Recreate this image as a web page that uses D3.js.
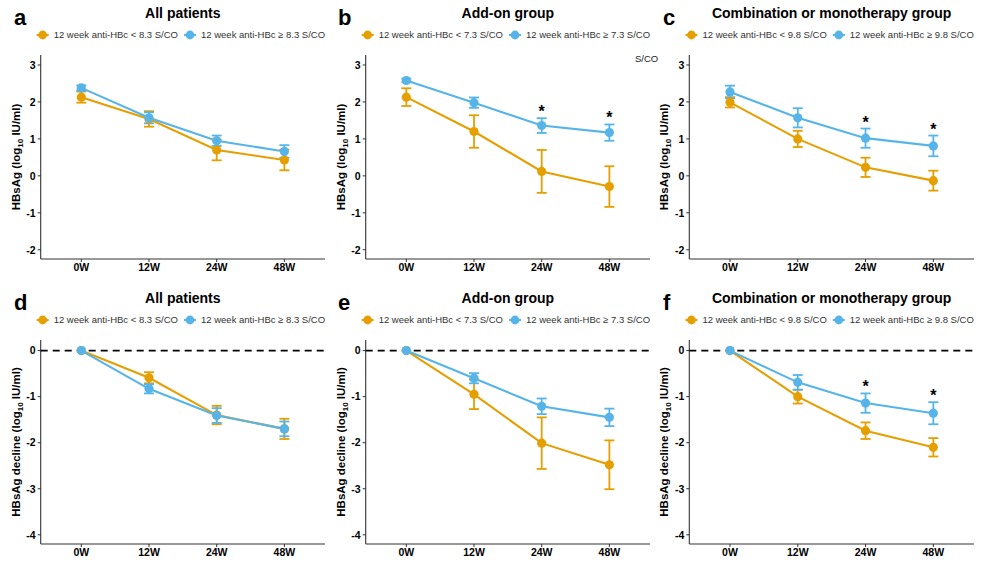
<!DOCTYPE html>
<html>
<head>
<meta charset="utf-8">
<script src="https://cdn.jsdelivr.net/npm/d3@7"></script>
<style>
  html, body { margin: 0; padding: 0; background: #ffffff; }
  svg { display: block; font-family: "Liberation Sans", Arial, sans-serif; }
</style>
</head>
<body>
<svg id="chart" width="988" height="568"></svg>
<script>
// ---------- data ----------
const timepoints = ["0W", "12W", "24W", "48W"];

// Top row: HBsAg (log10 IU/ml), mean and error half-width
const aLow = [2.13, 1.54, 0.70, 0.43];
const aLowErr = [0.15, 0.21, 0.28, 0.28];
const aHigh = [2.38, 1.57, 0.95, 0.66];
const aHighErr = [0.07, 0.15, 0.14, 0.17];

const bLow = [2.13, 1.20, 0.12, -0.29];
const bLowErr = [0.24, 0.44, 0.58, 0.55];
const bHigh = [2.58, 1.98, 1.36, 1.17];
const bHighErr = [0.05, 0.14, 0.20, 0.22];

const cLow = [1.99, 1.00, 0.23, -0.13];
const cLowErr = [0.14, 0.22, 0.26, 0.27];
const cHigh = [2.27, 1.57, 1.02, 0.81];
const cHighErr = [0.17, 0.26, 0.26, 0.28];

// Bottom row: HBsAg decline (log10 IU/ml)
const dLow = [0, -0.59, -1.40, -1.70];
const dLowErr = [0, 0.12, 0.20, 0.22];
const dHigh = [0, -0.83, -1.41, -1.70];
const dHighErr = [0, 0.10, 0.16, 0.16];

const eLow = [0, -0.95, -2.01, -2.48];
const eLowErr = [0, 0.32, 0.56, 0.53];
const eHigh = [0, -0.60, -1.21, -1.45];
const eHighErr = [0, 0.11, 0.17, 0.19];

const fLow = [0, -1.00, -1.74, -2.10];
const fLowErr = [0, 0.15, 0.18, 0.20];
const fHigh = [0, -0.69, -1.14, -1.36];
const fHighErr = [0, 0.16, 0.21, 0.24];

const thresholds = ["8.3", "7.3", "9.8"];
const titles = ["All patients", "Add-on group", "Combination or monotherapy group"];
const letters = ["a", "b", "c", "d", "e", "f"];
const sigNone = [false, false, false, false];
const sigLate = [false, false, true, true];

const topTicks = [-2, -1, 0, 1, 2, 3];
const bottomTicks = [-4, -3, -2, -1, 0];

const colLow = "#E69F00";
const colHigh = "#56B4E9";

// ---------- layout ----------
const colX = [[40.7, 325], [365.7, 650], [689.3, 974]];
const rowY = [[55, 259], [340, 544]];
const rowOff = [0, 285];
const letterX = [14, 338, 663];

const panels = [
  {row: 0, col: 0, low: aLow, lowErr: aLowErr, high: aHigh, highErr: aHighErr, sig: sigNone},
  {row: 0, col: 1, low: bLow, lowErr: bLowErr, high: bHigh, highErr: bHighErr, sig: sigLate},
  {row: 0, col: 2, low: cLow, lowErr: cLowErr, high: cHigh, highErr: cHighErr, sig: sigLate},
  {row: 1, col: 0, low: dLow, lowErr: dLowErr, high: dHigh, highErr: dHighErr, sig: sigNone},
  {row: 1, col: 1, low: eLow, lowErr: eLowErr, high: eHigh, highErr: eHighErr, sig: sigNone},
  {row: 1, col: 2, low: fLow, lowErr: fLowErr, high: fHigh, highErr: fHighErr, sig: sigLate}
];

const svg = d3.select("#chart");
svg.append("rect").attr("width", 988).attr("height", 568).attr("fill", "#ffffff");

panels.forEach((p, i) => {
  const [x0, x1] = colX[p.col];
  const [y0, y1] = rowY[p.row];
  const off = rowOff[p.row];
  const g = svg.append("g");

  const x = d3.scalePoint().domain(timepoints).range([x0, x1]).padding(0.6);
  const y = d3.scaleLinear()
    .domain(p.row === 0 ? [-2.25, 3.27] : [-4.2, 0.23])
    .range([y1, y0]);

  // panel letter
  g.append("text").attr("x", letterX[p.col]).attr("y", off + 25)
    .attr("font-size", 22).attr("font-weight", "bold").attr("fill", "#000")
    .text(letters[i]);

  // title
  const cx = (x0 + x1) / 2;
  g.append("text").attr("x", cx).attr("y", off + 17.5)
    .attr("text-anchor", "middle").attr("font-size", 14).attr("font-weight", "bold")
    .attr("fill", "#000").text(titles[p.col]);

  // legend
  const leg = g.append("g");
  const labels = [
    {t: "12 week anti-HBc < " + thresholds[p.col] + " S/CO", c: colLow},
    {t: "12 week anti-HBc \u2265 " + thresholds[p.col] + " S/CO", c: colHigh}
  ];
  let lx = 0;
  labels.forEach((L) => {
    const item = leg.append("g").attr("transform", `translate(${lx},0)`);
    item.append("line").attr("x1", -6).attr("x2", 6).attr("y1", 0).attr("y2", 0)
      .attr("stroke", L.c).attr("stroke-width", 2);
    item.append("circle").attr("r", 4.4).attr("fill", L.c);
    const t = item.append("text").attr("x", 11).attr("y", 3.4)
      .attr("font-size", 9.5).attr("fill", "#333").text(L.t);
    const w = t.node().getComputedTextLength();
    lx += 11 + w + 12;
  });
  const legW = lx - 12 + 6;
  leg.attr("transform", `translate(${cx - 2 - legW / 2 + 6},${off + 35})`);

  // axes lines
  g.append("line").attr("x1", x0).attr("x2", x0).attr("y1", y0).attr("y2", y1)
    .attr("stroke", "#333").attr("stroke-width", 1.1);
  g.append("line").attr("x1", x0).attr("x2", x1).attr("y1", y1).attr("y2", y1)
    .attr("stroke", "#333").attr("stroke-width", 1.1);

  // y ticks
  const yt = p.row === 0 ? topTicks : bottomTicks;
  yt.forEach(v => {
    g.append("line").attr("x1", x0 - 3).attr("x2", x0).attr("y1", y(v)).attr("y2", y(v))
      .attr("stroke", "#333").attr("stroke-width", 1);
    g.append("text").attr("x", x0 - 5).attr("y", y(v) + 3.8)
      .attr("text-anchor", "end").attr("font-size", 10.5).attr("font-weight", "bold")
      .attr("fill", "#000").text(v);
  });
  // x ticks
  timepoints.forEach(tp => {
    g.append("line").attr("x1", x(tp)).attr("x2", x(tp)).attr("y1", y1).attr("y2", y1 + 3)
      .attr("stroke", "#333").attr("stroke-width", 1);
    g.append("text").attr("x", x(tp)).attr("y", y1 + 12)
      .attr("text-anchor", "middle").attr("font-size", 10.5).attr("font-weight", "bold")
      .attr("fill", "#000").text(tp);
  });

  // y axis title
  const ty = (y0 + y1) / 2;
  const tx = x0 - 21;
  const title = g.append("text").attr("transform", `translate(${tx},${ty}) rotate(-90)`)
    .attr("text-anchor", "middle").attr("font-size", 11.5).attr("font-weight", "bold")
    .attr("fill", "#000");
  title.append("tspan").text(p.row === 0 ? "HBsAg (log" : "HBsAg decline (log");
  title.append("tspan").attr("font-size", 8).attr("dy", 3).text("10");
  title.append("tspan").attr("dy", -3).text(" IU/ml)");

  // dashed zero line in bottom row
  if (p.row === 1) {
    g.append("line").attr("x1", x0).attr("x2", x1).attr("y1", y(0)).attr("y2", y(0))
      .attr("stroke", "#000").attr("stroke-width", 1.8).attr("stroke-dasharray", "7,5");
  }

  const series = [
    {vals: p.low, err: p.lowErr, c: colLow},
    {vals: p.high, err: p.highErr, c: colHigh}
  ];

  const line = d3.line().x((d, k) => x(timepoints[k])).y(d => y(d));

  series.forEach(s => {
    g.append("path").attr("d", line(s.vals)).attr("fill", "none")
      .attr("stroke", s.c).attr("stroke-width", 2.1);
  });
  series.forEach(s => {
    s.vals.forEach((v, k) => {
      const e = s.err[k];
      if (e <= 0) return;
      const px = x(timepoints[k]);
      const eg = g.append("g").attr("stroke", s.c).attr("stroke-width", 1.8);
      eg.append("line").attr("x1", px).attr("x2", px).attr("y1", y(v - e)).attr("y2", y(v + e));
      eg.append("line").attr("x1", px - 5).attr("x2", px + 5).attr("y1", y(v - e)).attr("y2", y(v - e));
      eg.append("line").attr("x1", px - 5).attr("x2", px + 5).attr("y1", y(v + e)).attr("y2", y(v + e));
    });
  });
  series.forEach(s => {
    s.vals.forEach((v, k) => {
      g.append("circle").attr("cx", x(timepoints[k])).attr("cy", y(v))
        .attr("r", 4.6).attr("fill", s.c);
    });
  });

  // significance stars
  p.sig.forEach((sg, k) => {
    if (!sg) return;
    const top = Math.max(p.low[k] + p.lowErr[k], p.high[k] + p.highErr[k]);
    g.append("text").attr("x", x(timepoints[k])).attr("y", y(top) - 10 + 9)
      .attr("text-anchor", "middle").attr("font-size", 16).attr("font-weight", "bold")
      .attr("fill", "#000").text("*");
  });
});

// stray label in panel b
svg.append("text").attr("x", 635).attr("y", 61.5).attr("font-size", 9.5)
  .attr("fill", "#222").text("S/CO");
</script>
</body>
</html>
